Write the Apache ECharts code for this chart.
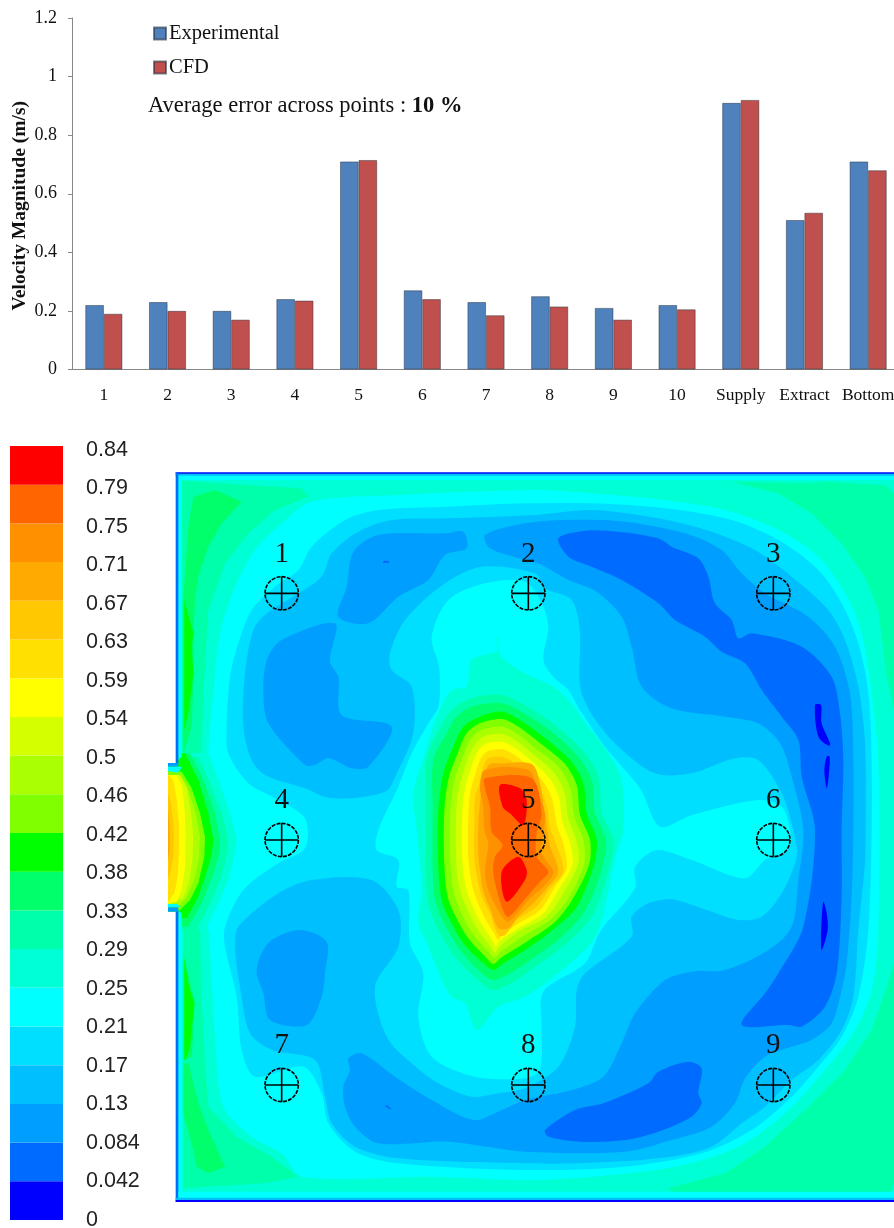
<!DOCTYPE html>
<html><head><meta charset="utf-8">
<style>html,body{margin:0;padding:0;background:#fff}#c{width:894px;height:1228px}</style>
<script src="https://cdn.jsdelivr.net/npm/echarts@6/dist/echarts.min.js"></script>
</head><body><div id="c"></div>
<script>
const categories=['1','2','3','4','5','6','7','8','9','10','Supply','Extract','Bottom'];
const experimental=[0.22,0.23,0.20,0.24,0.71,0.27,0.23,0.25,0.21,0.22,0.91,0.51,0.71];
const cfd=[0.19,0.20,0.17,0.235,0.715,0.24,0.185,0.215,0.17,0.205,0.92,0.535,0.68];
const scaleLabels=['0','0.042','0.084','0.13','0.17','0.21','0.25','0.29','0.33','0.38','0.42','0.46','0.5','0.54','0.59','0.63','0.67','0.71','0.75','0.79','0.84'];
const bandColors=['#0000ff','#006cff','#009fff','#00bfff','#00dfff','#00ffff','#00ffd5','#00ffaa','#00ff6a','#00ff00','#80ff00','#aaff00','#d4ff00','#ffff00','#ffe000','#ffc800','#ffaa00','#ff9000','#ff6600','#ff0000'];
const sensors=[[350,400,'1'],[1090,400,'2'],[1825,400,'3'],[350,1140,'4'],[1090,1140,'5'],[1825,1140,'6'],[350,1875,'7'],[1090,1875,'8'],[1825,1875,'9']];

// contour outlines of the velocity field, in room units, each with its band index
const room=[[36,39],[2187,39],[2187,2225],[36,2225]];
const tlBand7=[[50,62],[410,85],[430,110],[330,150],[250,220],[180,310],[130,450],[115,700],[110,880],[50,880]];
const tlBand8=[[85,110],[150,90],[230,125],[170,190],[130,260],[100,350],[90,420],[85,520],[85,650],[80,800],[55,880],[55,420],[70,200]];
const tlBand9=[[58,420],[85,520],[80,560],[85,640],[70,760],[58,810]];
const blBand7=[[55,1380],[105,1410],[110,1610],[120,1810],[130,1940],[215,2030],[320,2090],[400,2150],[300,2170],[55,2185]];
const blBand8=[[55,1810],[70,1810],[100,1930],[130,2010],[180,2120],[130,2140],[95,2120],[85,2070],[55,1960]];
const blBand8b=[[55,1480],[90,1630],[80,1790],[55,1800]];
const blBand9=[[58,1495],[72,1580],[88,1630],[75,1760],[62,1800],[58,1800]];
const trBand7=[[1700,65],[1940,70],[1980,65],[2160,75],[2187,100],[2187,750],[2165,650],[2140,450],[2100,350],[2030,250],[1940,160],[1840,100]];
const brBand7=[[2187,1510],[2155,1610],[2120,1710],[2040,1830],[1930,1940],[1800,2060],[1680,2140],[1510,2185],[1530,2205],[2170,2205],[2187,2170]];
const band5Outer=[[1110,90],[1280,100],[1500,120],[1680,150],[1830,205],[1960,290],[2040,400],[2090,520],[2120,700],[2140,900],[2140,1410],[2120,1590],[2070,1710],[1980,1830],[1860,1960],[1720,2060],[1530,2120],[1280,2150],[1080,2160],[800,2150],[410,2150],[350,2080],[260,2030],[175,1940],[150,1730],[140,1560],[130,1410],[120,1360],[130,880],[145,700],[165,520],[210,380],[270,270],[350,190],[440,125],[700,105]];
const band4Outer=[[1080,130],[1280,130],[1500,145],[1700,180],[1840,240],[1960,330],[2030,430],[2080,550],[2110,700],[2120,900],[2120,1110],[2110,1410],[2080,1610],[2030,1730],[1960,1820],[1880,1910],[1760,2010],[1610,2080],[1380,2120],[1080,2130],[700,2110],[570,2075],[490,1990],[470,1900],[415,1820],[270,1850],[230,1770],[215,1610],[180,1460],[180,1400],[235,1290],[340,1210],[420,1165],[420,1075],[330,1015],[250,970],[190,880],[185,800],[195,650],[220,550],[260,450],[330,380],[400,330],[440,260],[540,180],[640,150],[850,140]];
const band3Ring=[[500,1015],[420,985],[300,945],[260,900],[235,800],[240,640],[265,510],[300,465],[400,400],[470,350],[500,280],[580,215],[680,180],[850,175],[1110,165],[1280,150],[1480,175],[1640,215],[1770,270],[1880,350],[1990,450],[2040,540],[2080,680],[2100,850],[2102,1140],[2100,1210],[2080,1410],[2065,1610],[2030,1710],[1960,1800],[1880,1860],[1800,1940],[1730,1990],[1640,2060],[1480,2095],[1230,2110],[1080,2110],[700,2095],[570,2060],[500,1990],[480,1910],[450,1800],[320,1770],[255,1720],[225,1580],[210,1460],[220,1400],[340,1300],[440,1260],[620,1260],[700,1350],[700,1460],[630,1580],[665,1730],[740,1810],[820,1870],[920,1910],[1000,1900],[1080,1885],[1180,1820],[1230,1700],[1235,1590],[1260,1540],[1400,1430],[1400,1370],[1450,1330],[1520,1318],[1610,1345],[1720,1380],[1790,1370],[1850,1300],[1895,1190],[1885,1110],[1850,1000],[1780,900],[1710,895],[1580,940],[1470,940],[1360,860],[1285,770],[1245,680],[1245,520],[1220,420],[1140,385],[1110,340],[950,320],[840,370],[720,480],[675,580],[680,630],[740,680],[745,820],[700,930],[660,995]];
const band2TopLeft=[[565,275],[640,225],[840,220],[895,215],[905,265],[840,285],[790,360],[700,410],[610,490],[520,470],[545,380]];
const band2MidLeft=[[510,490],[350,540],[305,600],[295,700],[310,790],[420,915],[450,915],[490,895],[560,925],[610,920],[680,800],[530,765],[520,650],[495,605]];
const band2Main=[[960,225],[1080,190],[1200,180],[1380,185],[1560,220],[1670,270],[1730,340],[1800,400],[1930,470],[2010,560],[2055,700],[2065,900],[2065,1110],[2060,1310],[2045,1510],[2030,1590],[2000,1690],[1940,1740],[1880,1760],[1800,1790],[1740,1855],[1710,1930],[1640,2000],[1520,2040],[1380,2075],[1080,2075],[850,2045],[640,2050],[570,2000],[540,1940],[535,1880],[555,1830],[550,1795],[590,1780],[690,1850],[800,1920],[925,1980],[1000,1955],[1080,1920],[1220,1890],[1315,1850],[1370,1750],[1410,1660],[1500,1560],[1580,1535],[1680,1530],[1810,1470],[1880,1400],[1900,1260],[1915,1110],[1880,950],[1845,850],[1780,790],[1680,770],[1520,745],[1430,680],[1400,560],[1370,470],[1295,395],[1210,360],[1130,315],[1080,300],[975,265]];
const band2Seven=[[405,1410],[320,1440],[285,1490],[275,1540],[295,1600],[315,1680],[425,1695],[470,1610],[480,1540],[485,1445]];
const band1Long=[[1180,235],[1260,212],[1360,215],[1480,235],[1520,260],[1600,295],[1630,350],[1650,430],[1700,480],[1720,535],[1760,520],[1910,560],[2000,650],[2025,760],[2035,900],[2030,1110],[2030,1310],[2015,1540],[1980,1640],[1910,1700],[1870,1695],[1730,1695],[1800,1600],[1840,1540],[1915,1400],[1950,1110],[1910,950],[1900,840],[1850,770],[1790,690],[1740,610],[1670,575],[1620,530],[1530,480],[1480,430],[1370,360],[1280,320],[1210,290]];
const band1Low=[[1140,2010],[1230,1950],[1315,1930],[1450,1870],[1480,1835],[1570,1805],[1610,1825],[1600,1900],[1610,1930],[1580,1970],[1480,2015],[1380,2040],[1250,2045],[1150,2030]];
const band1TickA=[[665,1935],[680,1948],[675,1948],[660,1938]];
const band1TickB=[[655,303],[672,303],[672,308],[655,308]];
const band0A=[[1950,735],[1968,735],[1970,790],[1995,850],[1992,858],[1960,830]];
const band0B=[[1985,890],[1994,890],[1990,960],[1985,985],[1978,930]];
const band0C=[[1975,1325],[1985,1360],[1988,1410],[1970,1470],[1968,1420]];
const inlet6=[[130,880],[160,960],[195,1060],[215,1140],[205,1200],[190,1260],[160,1330],[125,1400],[36,1400],[36,880]];
const inlet7=[[100,890],[135,970],[170,1060],[190,1140],[182,1200],[165,1260],[135,1330],[95,1410],[36,1410],[36,890]];
const inlet8=[[75,880],[115,960],[150,1060],[165,1140],[160,1190],[145,1240],[115,1320],[70,1400],[36,1400],[36,880]];
const inlet9=[[60,880],[100,960],[130,1060],[145,1140],[140,1180],[130,1220],[100,1310],[65,1375],[36,1375],[36,1355],[9,1355],[9,909],[36,909],[36,880]];
const inlet10=[[50,935],[80,985],[105,1060],[120,1130],[118,1190],[100,1270],[75,1320],[45,1350],[9,1350],[9,930]];
const inlet11=[[45,945],[70,990],[92,1060],[105,1130],[102,1190],[88,1260],[65,1310],[40,1340],[9,1340],[9,945]];
const inlet12=[[9,945],[45,945],[65,980],[78,1060],[85,1130],[82,1200],[72,1270],[55,1315],[9,1335]];
const inlet13=[[9,945],[35,945],[50,975],[60,1060],[62,1130],[60,1220],[50,1290],[35,1325],[9,1330]];
const inlet14=[[9,945],[25,960],[35,1020],[42,1090],[42,1170],[38,1250],[28,1300],[9,1325]];
const inlet15=[[9,1000],[18,1030],[25,1090],[27,1130],[25,1190],[18,1230],[9,1260]];
const inlet16=[[9,1050],[14,1100],[14,1170],[9,1200]];
const core5=[[800,530],[850,420],[960,370],[1080,365],[1130,430],[1150,500],[1135,600],[1165,650],[1210,690],[1245,750],[1320,860],[1425,985],[1485,1100],[1580,1065],[1780,1020],[1850,1040],[1875,1110],[1870,1170],[1800,1200],[1740,1255],[1580,1200],[1475,1170],[1410,1220],[1410,1285],[1305,1415],[1260,1510],[1135,1595],[1130,1700],[1125,1830],[1080,1855],[930,1850],[800,1790],[760,1670],[775,1540],[735,1450],[730,1290],[695,1280],[700,1200],[635,1170],[640,1110],[700,980],[740,880],[790,790],[820,740],[825,660],[820,610]];
const core6=[[990,520],[1010,590],[1080,640],[1165,680],[1215,725],[1255,780],[1330,880],[1370,960],[1375,1110],[1355,1180],[1300,1410],[1250,1480],[1140,1570],[1080,1610],[1000,1640],[935,1710],[900,1630],[860,1610],[830,1560],[790,1460],[760,1390],[770,1290],[755,1110],[745,1000],[780,880],[815,770],[860,690],[905,680],[920,600],[1000,570]];
const core7=[[1010,705],[920,715],[860,750],[825,805],[785,895],[783,1050],[783,1230],[790,1330],[820,1410],[870,1490],[940,1560],[985,1590],[1045,1565],[1125,1510],[1210,1445],[1280,1370],[1325,1250],[1345,1140],[1310,1060],[1300,950],[1260,880],[1175,800],[1095,745]];
const core8=[[1010,730],[920,740],[870,775],[845,820],[805,900],[803,1050],[803,1225],[810,1320],[840,1395],[885,1470],[945,1535],[985,1560],[1035,1540],[1110,1490],[1190,1430],[1255,1360],[1305,1245],[1322,1140],[1290,1060],[1280,960],[1240,890],[1160,815],[1085,765]];
const core9=[[1010,755],[945,770],[895,800],[865,860],[835,940],[820,1050],[820,1220],[830,1320],[855,1380],[895,1450],[955,1510],[985,1530],[1015,1510],[1095,1460],[1175,1400],[1235,1340],[1285,1220],[1295,1140],[1265,1060],[1255,970],[1215,900],[1135,830],[1065,780]];
const core10=[[1010,777],[945,790],[905,820],[880,875],[852,950],[838,1050],[838,1215],[848,1310],[872,1370],[910,1435],[965,1495],[985,1512],[1010,1492],[1085,1445],[1165,1390],[1218,1325],[1272,1215],[1275,1140],[1245,1065],[1235,975],[1198,910],[1120,845],[1060,800]];
const core11=[[1010,800],[950,810],[915,840],[893,890],[868,960],[856,1050],[856,1210],[866,1300],[888,1358],[922,1420],[972,1478],[988,1494],[1008,1475],[1075,1428],[1155,1380],[1210,1315],[1258,1210],[1255,1140],[1228,1070],[1216,985],[1180,920],[1105,860],[1055,820]];
const core12=[[1010,822],[955,830],[925,860],[905,905],[885,970],[874,1055],[874,1205],[884,1290],[905,1345],[935,1405],[978,1462],[990,1478],[1005,1458],[1065,1412],[1145,1370],[1195,1300],[1240,1210],[1235,1145],[1210,1075],[1198,995],[1165,935],[1095,875],[1050,840]];
const core13=[[1010,845],[960,852],[935,880],[918,925],[900,985],[892,1060],[892,1200],[902,1280],[920,1332],[948,1390],[985,1445],[992,1460],[1003,1442],[1060,1405],[1135,1360],[1180,1290],[1222,1215],[1215,1148],[1192,1085],[1180,1005],[1150,950],[1085,890],[1045,860]];
const core14=[[1010,867],[965,875],[945,900],[930,945],[915,1000],[910,1070],[910,1195],[920,1270],[935,1320],[960,1375],[990,1425],[1000,1440],[1012,1425],[1060,1390],[1125,1350],[1170,1280],[1205,1225],[1195,1150],[1175,1095],[1162,1020],[1135,965],[1075,905],[1040,880]];
const core15=[[1010,890],[970,895],[955,920],[945,965],[930,1015],[928,1080],[928,1190],[938,1260],[950,1308],[975,1360],[1000,1425],[1020,1425],[1055,1380],[1115,1340],[1155,1285],[1195,1235],[1175,1155],[1155,1105],[1145,1035],[1120,980],[1065,925],[1035,900]];
const core16=[[1000,910],[975,912],[958,940],[950,985],[945,1030],[940,1090],[940,1185],[946,1240],[955,1295],[975,1345],[1000,1405],[1030,1405],[1060,1370],[1105,1330],[1145,1285],[1180,1235],[1155,1158],[1140,1070],[1125,970],[1100,912]];
const core17=[[960,930],[1090,930],[1115,990],[1140,1060],[1135,1120],[1130,1180],[1165,1235],[1140,1275],[1095,1315],[1030,1385],[1005,1360],[970,1290],[960,1240],[965,1190],[970,1150],[958,1110],[955,1040],[945,985]];
const core18=[[960,955],[1100,955],[1130,1060],[1115,1120],[1115,1190],[1150,1235],[1125,1265],[1085,1310],[1030,1370],[1010,1340],[985,1240],[990,1190],[1013,1155],[980,1115],[975,1040],[960,985]];
const peakTop=[[1005,975],[1065,985],[1085,1020],[1075,1095],[1035,1060],[1013,1040]];
const peakLow=[[1060,1190],[1085,1230],[1080,1260],[1025,1325],[1010,1235]];
const rimTop5=[[36,47],[2187,47],[2187,60],[36,60]];
const rimTop3=[[32,41],[2187,41],[2187,47],[32,47]];
const rimTop0=[[32,37],[2187,37],[2187,41],[32,41]];
const rimLeftUp5=[[40,47],[50,47],[50,890],[40,900]];
const rimLeftUp1=[[32,37],[40,37],[40,912],[32,912]];
const rimLeftLow5=[[40,1352],[50,1360],[50,2205],[40,2205]];
const rimLeftLow1=[[32,1352],[40,1352],[40,2226],[32,2226]];
const rimBottom5=[[40,2195],[2187,2195],[2187,2213],[40,2213]];
const rimBottom3=[[32,2213],[2187,2213],[2187,2220],[32,2220]];
const rimBottom0=[[32,2220],[2187,2220],[2187,2226],[32,2226]];
const notchTop2=[[9,909],[40,909],[40,920],[9,920]];
const notchTop5=[[9,920],[52,920],[38,938],[9,933]];
const notchLow5=[[9,1332],[36,1332],[48,1342],[9,1342]];
const notchLow2=[[9,1342],[40,1342],[40,1355],[9,1355]];

const wallLayers=[[7,tlBand7],[8,tlBand8],[9,tlBand9],[7,blBand7],[8,blBand8],[8,blBand8b],[9,blBand9],[7,trBand7],[7,brBand7]];
const organicLayers=[[5,band5Outer],[4,band4Outer],[3,band3Ring],[2,band2TopLeft],[2,band2MidLeft],[2,band2Main],[2,band2Seven],[1,band1Long],[1,band1Low],[1,band1TickA],[1,band1TickB],[0,band0A],[0,band0B],[0,band0C]];
const inletLayers=[[6,inlet6],[7,inlet7],[8,inlet8],[9,inlet9],[10,inlet10],[11,inlet11],[12,inlet12],[13,inlet13],[14,inlet14],[15,inlet15],[16,inlet16]];
const coreLayers=[[5,core5],[6,core6],[7,core7],[8,core8],[9,core9],[10,core10],[11,core11],[12,core12],[13,core13],[14,core14],[15,core15],[16,core16],[17,core17],[18,core18],[19,peakTop],[19,peakLow]];
const rimLayers=[[5,rimTop5],[3,rimTop3],[0,rimTop0],[5,rimLeftUp5],[1,rimLeftUp1],[5,rimLeftLow5],[1,rimLeftLow1],[5,rimBottom5],[3,rimBottom3],[0,rimBottom0],[2,notchTop2],[5,notchTop5],[5,notchLow5],[2,notchLow2]];
const contourLayers=[[6,room,0],...wallLayers.map(l=>[l[0],l[1],0]),...organicLayers.map(l=>[l[0],l[1],0.3]),...inletLayers.map(l=>[l[0],l[1],0]),...coreLayers.map(l=>[l[0],l[1],0.3]),...rimLayers.map(l=>[l[0],l[1],0])];

const serif='"Liberation Serif","Times New Roman",serif';
const chart=echarts.init(document.getElementById('c'),null,{renderer:'canvas'});
chart.setOption({
  animation:false,
  backgroundColor:'#fff',
  legend:{orient:'vertical',left:153,top:23,padding:0,itemWidth:12,itemHeight:12,itemGap:13,icon:'rect',data:['Experimental','CFD'],
    textStyle:{fontFamily:serif,fontSize:20.5,color:'#111',padding:[0,0,0,-2]}},
  graphic:[{type:'text',left:148,top:95,style:{rich:{n:{fontFamily:serif,fontSize:22.5,fill:'#111'},b:{fontFamily:serif,fontSize:22.5,fontWeight:'bold',fill:'#111'}},text:'{n|Average error across points : }{b|10 %}'}}],
  grid:[
    {left:72,top:18,width:828,height:351.5,outerBoundsMode:'none'},
    {left:10,top:446,width:53,height:774,outerBoundsMode:'none'},
    {left:165,top:460,width:729,height:760,outerBoundsMode:'none'},
    {left:10,top:450,width:53,height:770,outerBoundsMode:'none'}
  ],
  xAxis:[
    {gridIndex:0,type:'category',data:categories,axisLine:{lineStyle:{color:'#888'}},axisTick:{length:6,lineStyle:{color:'#888'},alignWithLabel:false},
      axisLabel:{fontFamily:serif,fontSize:17.5,color:'#111',margin:17,interval:0}},
    {gridIndex:1,type:'value',min:0,max:1,show:false},
    {gridIndex:2,type:'value',min:0,max:2187,show:false},
    {gridIndex:3,type:'value',min:0,max:1,show:false}
  ],
  yAxis:[
    {gridIndex:0,type:'value',min:0,max:1.2,interval:0.2,splitLine:{show:false},axisLine:{show:true,lineStyle:{color:'#888'}},axisTick:{show:true,length:4,lineStyle:{color:'#888'}},
      axisLabel:{fontFamily:serif,fontSize:18,color:'#111',margin:15,formatter:v=>String(+v.toFixed(1))},
      name:'Velocity Magnitude (m/s)',nameLocation:'middle',nameGap:42,nameMoveOverlap:false,nameTextStyle:{fontFamily:serif,fontSize:19.5,fontWeight:'bold',color:'#111',padding:[0,24,0,0]}},
    {gridIndex:1,type:'value',min:0,max:20,interval:1,show:false},
    {gridIndex:2,type:'value',min:0,max:2280,inverse:true,show:false},
    {gridIndex:3,type:'value',min:0,max:20,interval:1,position:'right',splitLine:{show:false},axisLine:{show:false},axisTick:{show:false},
      axisLabel:{fontFamily:'"Liberation Sans",Arial,sans-serif',fontSize:21.5,color:'#222',margin:23,formatter:v=>scaleLabels[v]}}
  ],
  series:[
    {name:'Experimental',type:'bar',xAxisIndex:0,yAxisIndex:0,data:experimental,barWidth:18.5,barGap:'0%',itemStyle:{color:'#4f81bd',borderColor:'rgba(37,48,60,0.6)',borderWidth:0.8}},
    {name:'CFD',type:'bar',xAxisIndex:0,yAxisIndex:0,data:cfd,barWidth:18.5,barGap:'0%',itemStyle:{color:'#c0504d',borderColor:'rgba(37,48,60,0.6)',borderWidth:0.8}},
    {type:'custom',xAxisIndex:1,yAxisIndex:1,silent:true,clip:false,data:bandColors.map((c,i)=>[i]),encode:{x:-1,y:0},
      renderItem(p,api){const a=api.coord([0,p.dataIndex]),b=api.coord([1,p.dataIndex+1]);
        return {type:'rect',shape:{x:a[0],y:b[1],width:b[0]-a[0],height:a[1]-b[1]},style:{fill:bandColors[p.dataIndex]}};}},
    {type:'custom',xAxisIndex:2,yAxisIndex:2,silent:true,clip:false,data:contourLayers.map((l,i)=>[i]),encode:{x:-1,y:-1},
      renderItem(p,api){const l=contourLayers[p.dataIndex];
        return {type:'polygon',shape:{points:l[1].map(q=>api.coord(q)),smooth:l[2]},style:{fill:bandColors[l[0]]}};}},
    {type:'custom',xAxisIndex:2,yAxisIndex:2,silent:true,clip:false,z:5,data:sensors.map(s=>[s[0],s[1]]),encode:{x:0,y:1},
      renderItem(p,api){const s=sensors[p.dataIndex],c=api.coord([s[0],s[1]]),e=api.coord([s[0]+50,s[1]]),r=e[0]-c[0],t=api.coord([s[0],s[1]-118]);
        const st={stroke:'#000',lineWidth:1.6,fill:null};
        return {type:'group',children:[
          {type:'circle',shape:{cx:c[0],cy:c[1],r:r},style:{...st,lineDash:[4,1.2]}},
          {type:'line',shape:{x1:c[0]-r,y1:c[1],x2:c[0]+r,y2:c[1]},style:st},
          {type:'line',shape:{x1:c[0],y1:c[1]-r,x2:c[0],y2:c[1]+r},style:st},
          {type:'text',x:t[0],y:t[1],style:{text:s[2],font:'29px '+serif,fill:'#111',align:'center',verticalAlign:'middle'}}
        ]};}}
  ]
});
</script></body></html>
